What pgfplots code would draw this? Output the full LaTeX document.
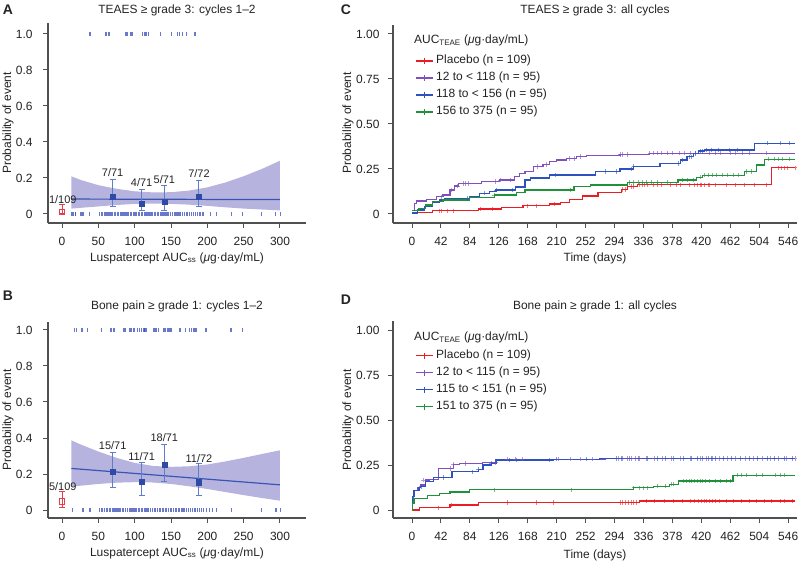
\documentclass[border=0pt]{standalone}
\usepackage{pgfplots}
\pgfplotsset{compat=1.18}
\usepackage{fontspec}
\setmainfont{Liberation Sans}
\definecolor{axisgray}{RGB}{80,80,80}
\definecolor{txt}{RGB}{35,35,35}
\definecolor{bandfill}{RGB}{182,180,222}
\definecolor{fitblue}{RGB}{55,85,180}
\definecolor{rugblue}{RGB}{55,75,185}
\definecolor{errblue}{RGB}{95,125,205}
\definecolor{sqblue}{RGB}{45,75,165}
\definecolor{plred}{RGB}{232,60,70}
\definecolor{kmred}{RGB}{236,28,36}
\definecolor{kmpurple}{RGB}{128,80,190}
\definecolor{kmblue}{RGB}{45,82,192}
\definecolor{kmgreen}{RGB}{30,145,58}
\newcommand{\fs}{\fontsize{12}{14}\selectfont}
\newcommand{\fss}{\fontsize{11}{13}\selectfont}
\pgfplotsset{
  panel/.style={
    scale only axis,
    axis x line*=bottom, axis y line*=left,
    axis line style={axisgray, line width=1.1bp},
    tick style={axisgray, line width=1bp},
    tick align=outside,
    major tick length=5bp,
    tick label style={font=\fs, color=txt},
    xticklabel style={yshift=-6bp},
    /pgf/number format/assume math mode=true,
  },
  rug/.style={only marks, mark=|, mark size=2bp, rugblue, mark options={line width=1.2bp, opacity=0.75}, forget plot},
  km/.style={const plot, line width=1.2bp, no marks, forget plot},
  cens/.style={only marks, mark=+, mark size=2.2bp, mark options={line width=0.8bp, opacity=0.6}, forget plot},
  sq/.style={only marks, mark=square*, mark size=2.6bp, sqblue, forget plot,
    error bars/.cd, y dir=both, y explicit,
    error bar style={errblue, line width=1bp},
    error mark options={errblue, mark size=3bp, line width=1bp, rotate=90}},
  pl/.style={only marks, mark=square, mark size=2.6bp, plred, mark options={fill=white, line width=1bp}, forget plot,
    error bars/.cd, y dir=both, y explicit,
    error bar style={plred, line width=1bp},
    error mark options={plred, mark size=3bp, line width=1bp, rotate=90}},
  kmlegend/.style={
    legend style={draw=none, fill=none, inner sep=0pt, font=\fs,
      nodes={inner sep=1bp, text height=9bp, text depth=3bp, text=txt}, row sep=3bp, column sep=2bp},
    legend cell align=left},
  legred/.style={color=kmred, draw=kmred, line width=1.2bp, mark=+, mark size=3bp, mark options={draw=kmred}},
  legpurple/.style={color=kmpurple, draw=kmpurple, line width=1.2bp, mark=+, mark size=3bp, mark options={draw=kmpurple}},
  legblue/.style={color=kmblue, draw=kmblue, line width=1.2bp, mark=+, mark size=3bp, mark options={draw=kmblue}},
  leggreen/.style={color=kmgreen, draw=kmgreen, line width=1.2bp, mark=+, mark size=3bp, mark options={draw=kmgreen}},
}
\begin{document}
\begin{tikzpicture}
\useasboundingbox (0bp,0bp) rectangle (798bp,565bp);
% ---------------- Panel A ----------------
\begin{axis}[panel, at={(48bp,342bp)}, anchor=south west, width=258bp, height=200bp,
  xmin=-19.3, xmax=335.8, ymin=-0.05, ymax=1.061,
  yticklabel style={xshift=-7bp},
  xtick={0,50,100,150,200,250,300}, ytick={0,0.2,0.4,0.6,0.8,1.0}, yticklabels={0,0.2,0.4,0.6,0.8,1.0}]
\addplot[fill=bandfill, draw=none, forget plot] coordinates {(13,0.209)(25,0.19)(50,0.16)(75,0.14)(100,0.126)(125,0.12)(150,0.121)(175,0.13)(200,0.148)(225,0.175)(250,0.21)(275,0.25)(300,0.296)
 (300,0.020)(275,0.025)(250,0.030)(225,0.037)(200,0.045)(175,0.052)(150,0.056)(125,0.058)(100,0.056)(75,0.050)(50,0.042)(25,0.034)(13,0.030)};
\addplot[fitblue, line width=1.2bp, forget plot] coordinates {(13,0.083)(300,0.080)};
\addplot[rug] coordinates {(38.5,1)(60.6,1)(64.7,1)(88,1)(90.4,1)(95,1)(97,1)(111,1)(113,1)(115.6,1)(119,1)(135,1)(151,1)(158.7,1)(162,1)(166,1)(171.6,1)(182,1)(184,1)};
\addplot[rug] coordinates {(13,0)(14,0)(16,0)(18,0)(19,0)(25,0)(27,0)(29,0)(38,0)(52,0)(55,0)(58,0)(60,0)(62,0)(64,0)(66,0)(68,0)(70,0)(72,0)(74,0)(76,0)(78,0)(80,0)(82,0)(84,0)(86,0)(88,0)(90,0)(92,0)(94,0)(96,0)(98,0)(100,0)(101,0)(103,0)(105,0)(107,0)(109,0)(111,0)(113,0)(115,0)(117,0)(119,0)(121,0)(123,0)(125,0)(127,0)(129,0)(131,0)(133,0)(135,0)(137,0)(139,0)(141,0)(143,0)(145,0)(147,0)(149,0)(152,0)(155,0)(157,0)(159,0)(161,0)(163,0)(166,0)(169,0)(172,0)(175,0)(178,0)(181,0)(184,0)(187,0)(190,0)(193,0)(195,0)(204,0)(213,0)(233,0)(248,0)(274,0)(294,0)(301,0)};
\addplot[sq] coordinates {(69.7,0.098) += (0,0.092) -= (0,0.059) (109.6,0.059) += (0,0.076) -= (0,0.039) (140.8,0.069) += (0,0.090) -= (0,0.049) (188.5,0.098) += (0,0.089) -= (0,0.059)};
\addplot[pl] coordinates {(0,0.011) += (0,0.039) -= (0,0.006)};
\node[font=\fss, txt] at (axis cs:69.7,0.228) {7/71};
\node[font=\fss, txt] at (axis cs:109.6,0.172) {4/71};
\node[font=\fss, txt] at (axis cs:140.8,0.19) {5/71};
\node[font=\fss, txt] at (axis cs:188.5,0.222) {7/72};
\node[font=\fss, txt] at (axis cs:1,0.08) {1/109};
\end{axis}
% ---------------- Panel B ----------------
\begin{axis}[panel, at={(48bp,47bp)}, anchor=south west, width=258bp, height=196bp,
  xmin=-19.3, xmax=335.8, ymin=-0.044, ymax=1.044,
  yticklabel style={xshift=-7bp},
  xtick={0,50,100,150,200,250,300}, ytick={0,0.2,0.4,0.6,0.8,1.0}, yticklabels={0,0.2,0.4,0.6,0.8,1.0}]
\addplot[fill=bandfill, draw=none, forget plot] coordinates {(13,0.387)(25,0.365)(50,0.325)(75,0.29)(100,0.262)(125,0.245)(150,0.24)(175,0.243)(200,0.253)(225,0.27)(250,0.29)(275,0.311)(300,0.332)
 (300,0.052)(275,0.067)(250,0.083)(225,0.100)(200,0.117)(175,0.132)(150,0.145)(125,0.153)(100,0.155)(75,0.152)(50,0.145)(25,0.135)(13,0.129)};
\addplot[fitblue, line width=1.2bp, forget plot] coordinates {(13,0.231)(300,0.140)};
\addplot[rug] coordinates {(17,1)(20.2,1)(27.5,1)(35.3,1)(54.6,1)(67.4,1)(71.6,1)(84.4,1)(86.7,1)(92.7,1)(95,1)(98.2,1)(100,1)(103.7,1)(106.4,1)(109.6,1)(112.8,1)(113.8,1)(115.1,1)(116.5,1)(126.6,1)(129.4,1)(132.6,1)(140.4,1)(142.7,1)(145,1)(147.2,1)(150,1)(162.4,1)(169.7,1)(175.2,1)(178.4,1)(180.7,1)(183,1)(185.3,1)(198.2,1)(232.6,1)(248.2,1)};
\addplot[rug] coordinates {(14,0)(29,0)(38.5,0)(52,0)(55,0)(58,0)(61,0)(63,0)(65,0)(67,0)(69,0)(71,0)(73,0)(75,0)(77,0)(79,0)(81,0)(84,0)(87,0)(90,0)(93,0)(95,0)(97,0)(99,0)(101,0)(103,0)(105,0)(107,0)(109,0)(111,0)(113,0)(115,0)(117,0)(119,0)(122,0)(125,0)(128,0)(131,0)(134,0)(136,0)(138,0)(140,0)(142,0)(144,0)(147,0)(150,0)(153,0)(156,0)(158,0)(160,0)(162,0)(165,0)(168,0)(171,0)(174,0)(177,0)(180,0)(183,0)(186,0)(189,0)(192,0)(195,0)(199,0)(203,0)(207,0)(213,0)(233,0)(274,0)(294.5,0)(301,0)};
\addplot[sq] coordinates {(69.7,0.212) += (0,0.109) -= (0,0.087) (109.6,0.157) += (0,0.105) -= (0,0.078) (140.8,0.253) += (0,0.112) -= (0,0.094) (188.5,0.155) += (0,0.103) -= (0,0.076)};
\addplot[pl] coordinates {(0,0.048) += (0,0.053) -= (0,0.035)};
\node[font=\fss, txt] at (axis cs:69.7,0.356) {15/71};
\node[font=\fss, txt] at (axis cs:109.6,0.295) {11/71};
\node[font=\fss, txt] at (axis cs:140.8,0.40) {18/71};
\node[font=\fss, txt] at (axis cs:188.5,0.286) {11/72};
\node[font=\fss, txt] at (axis cs:1,0.133) {5/109};
\end{axis}
% ---------------- Panel C ----------------
\begin{axis}[panel, kmlegend, at={(393bp,342bp)}, anchor=south west, width=404bp, height=198bp,
  xmin=-27.6, xmax=558.8, ymin=-0.05, ymax=1.05,
  yticklabel style={xshift=-5bp},
  xtick={0,42,...,546}, ytick={0,0.25,0.5,0.75,1}, yticklabels={0,0.25,0.50,0.75,1.00},
  legend style={at={(axis description cs:0.054,0.855)}, anchor=north west}]
\addplot[km, kmred] coordinates {(0,0.009)(30,0.018)(96,0.028)(130,0.037)(161,0.046)(200,0.056)(215,0.066)(229,0.082)(248,0.1)(270,0.118)(304,0.137)(313,0.152)(327,0.162)(522,0.257)(556,0.257)};
\addplot[km, kmpurple] coordinates {(0,0.02)(4,0.06)(6,0.072)(21,0.081)(35,0.096)(45,0.105)(55,0.133)(62,0.155)(67,0.17)(101,0.18)(127,0.189)(149,0.207)(156,0.226)(164,0.235)(176,0.263)(190,0.276)(200,0.29)(210,0.30)(224,0.309)(239,0.319)(253,0.324)(302,0.331)(345,0.338)(556,0.338)};
\addplot[km, kmblue] coordinates {(0,0.005)(8,0.022)(18,0.04)(30,0.063)(40,0.078)(47,0.087)(84,0.096)(98,0.115)(113,0.124)(122,0.133)(150,0.15)(164,0.189)(172,0.2)(200,0.217)(266,0.235)(302,0.25)(321,0.263)(360,0.281)(390,0.3)(399,0.318)(409,0.337)(416,0.35)(424,0.356)(497,0.393)(556,0.393)};
\addplot[km, kmgreen] coordinates {(0,0.019)(10,0.031)(20,0.05)(30,0.069)(45,0.078)(84,0.093)(120,0.105)(152,0.119)(164,0.133)(235,0.152)(259,0.161)(313,0.174)(386,0.189)(413,0.204)(422,0.215)(483,0.235)(500,0.272)(512,0.304)(556,0.304)};
\addplot[cens, kmred] coordinates {(40,0.018)(42,0.018)(52,0.018)(60,0.018)(99,0.028)(116,0.028)(167,0.046)(181,0.046)(207,0.056)(306,0.137)(310,0.137)(318,0.152)(322,0.152)(330,0.162)(334,0.162)(338,0.162)(342,0.162)(350,0.162)(356,0.162)(362,0.162)(375,0.162)(384,0.162)(390,0.162)(402,0.162)(410,0.162)(414,0.162)(418,0.162)(420,0.162)(425,0.162)(430,0.162)(432,0.162)(440,0.162)(456,0.162)(470,0.162)(482,0.162)(497,0.162)(514,0.162)(532,0.257)(536,0.257)(540,0.257)(545,0.257)(556,0.257)};
\addplot[cens, kmpurple] coordinates {(42,0.096)(57,0.133)(66,0.155)(74,0.17)(78,0.17)(82,0.17)(121,0.18)(128,0.189)(143,0.189)(182,0.263)(195,0.276)(229,0.309)(236,0.309)(244,0.319)(302,0.331)(306,0.331)(312,0.331)(345,0.338)(350,0.338)(356,0.338)(362,0.338)(370,0.338)(378,0.338)(388,0.338)(396,0.338)(404,0.338)(412,0.338)(432,0.338)(440,0.338)(448,0.338)(462,0.338)(470,0.338)(480,0.338)(490,0.338)(515,0.338)};
\addplot[cens, kmblue] coordinates {(81,0.087)(105,0.115)(122,0.133)(146,0.133)(208,0.217)(280,0.235)(296,0.235)(318,0.25)(322,0.263)(386,0.281)(392,0.30)(402,0.318)(406,0.318)(412,0.337)(418,0.35)(421,0.35)(428,0.356)(435,0.356)(445,0.356)(460,0.356)(472,0.356)(516,0.393)(535,0.393)(548,0.393)};
\addplot[cens, kmgreen] coordinates {(120,0.105)(230,0.133)(316,0.174)(322,0.174)(328,0.174)(334,0.174)(340,0.174)(348,0.174)(356,0.174)(370,0.174)(392,0.189)(400,0.189)(408,0.189)(418,0.204)(424,0.215)(430,0.215)(436,0.215)(442,0.215)(450,0.215)(458,0.215)(466,0.215)(474,0.215)(486,0.235)(492,0.235)(518,0.304)(526,0.304)(532,0.304)(538,0.304)(548,0.304)};
\addlegendimage{legred}
\addlegendentry{Placebo (n = 109)}
\addlegendimage{legpurple}
\addlegendentry{12 to < 118 (n = 95)}
\addlegendimage{legblue}
\addlegendentry{118 to < 156 (n = 95)}
\addlegendimage{leggreen}
\addlegendentry{156 to 375 (n = 95)}
\node[font=\fs, txt, anchor=west, inner sep=0pt] at (axis description cs:0.052,0.92) {AUC\textsubscript{TEAE} (\textit{μ}g·day/mL)};
\end{axis}
% ---------------- Panel D ----------------
\begin{axis}[panel, kmlegend, at={(393bp,47bp)}, anchor=south west, width=404bp, height=197bp,
  xmin=-27.6, xmax=558.8, ymin=-0.044, ymax=1.05,
  yticklabel style={xshift=-5bp},
  xtick={0,42,...,546}, ytick={0,0.25,0.5,0.75,1}, yticklabels={0,0.25,0.50,0.75,1.00},
  legend style={at={(axis description cs:0.054,0.86)}, anchor=north west}]
\addplot[km, kmred] coordinates {(0,0)(11,0.013)(55,0.028)(96,0.041)(330,0.05)(556,0.05)};
\addplot[km, kmpurple] coordinates {(0,0)(1,0.07)(2,0.11)(8,0.125)(12,0.139)(19,0.167)(25,0.17)(38,0.231)(60,0.254)(69,0.259)(102,0.265)(122,0.283)(280,0.287)(556,0.287)};
\addplot[km, kmblue] coordinates {(0,0)(1,0.074)(3,0.11)(10,0.126)(12,0.13)(19,0.157)(31,0.18)(58,0.213)(96,0.226)(103,0.25)(115,0.259)(122,0.278)(205,0.283)(272,0.287)(556,0.287)};
\addplot[km, kmgreen] coordinates {(0,0)(1,0.037)(3,0.065)(23,0.083)(40,0.092)(55,0.1)(84,0.113)(321,0.124)(350,0.133)(374,0.144)(387,0.161)(466,0.194)(556,0.194)};
\addplot[cens, kmred] coordinates {(38,0.013)(57,0.028)(139,0.041)(180,0.041)(205,0.041)(302,0.041)(306,0.041)(310,0.041)(314,0.041)(318,0.041)(322,0.041)(326,0.041)(340,0.05)(352,0.05)(366,0.05)(380,0.05)(392,0.05)(404,0.05)(410,0.05)(416,0.05)(420,0.05)(424,0.05)(428,0.05)(432,0.05)(436,0.05)(440,0.05)(446,0.05)(456,0.05)(466,0.05)(478,0.05)(490,0.05)(500,0.05)(512,0.05)(522,0.05)(534,0.05)(540,0.05)(552,0.05)};
\addplot[cens, kmpurple] coordinates {(16,0.167)(56,0.231)(60,0.254)(78,0.259)(121,0.265)(138,0.283)(150,0.283)(160,0.283)(212,0.283)(230,0.283)(245,0.283)(262,0.283)(300,0.287)(306,0.287)(312,0.287)(318,0.287)(324,0.287)(330,0.287)(340,0.287)(352,0.287)(364,0.287)(376,0.287)(390,0.287)(404,0.287)(418,0.287)(428,0.287)(436,0.287)(446,0.287)(458,0.287)(470,0.287)(484,0.287)(496,0.287)(508,0.287)(520,0.287)(532,0.287)(544,0.287)(556,0.287)};
\addplot[cens, kmblue] coordinates {(13,0.13)(45,0.18)(87,0.213)(96,0.226)(115,0.259)(142,0.278)(151,0.278)(200,0.278)(210,0.283)(253,0.283)(296,0.287)(304,0.287)(316,0.287)(328,0.287)(342,0.287)(356,0.287)(368,0.287)(380,0.287)(394,0.287)(406,0.287)(414,0.287)(422,0.287)(430,0.287)(434,0.287)(440,0.287)(452,0.287)(464,0.287)(476,0.287)(490,0.287)(502,0.287)(516,0.287)(526,0.287)(540,0.287)(552,0.287)};
\addplot[cens, kmgreen] coordinates {(120,0.113)(232,0.113)(322,0.124)(330,0.124)(336,0.124)(342,0.124)(356,0.133)(368,0.133)(376,0.144)(380,0.144)(394,0.161)(398,0.161)(402,0.161)(406,0.161)(410,0.161)(414,0.161)(418,0.161)(422,0.161)(426,0.161)(432,0.161)(440,0.161)(448,0.161)(456,0.161)(462,0.161)(472,0.194)(478,0.194)(486,0.194)(500,0.194)(508,0.194)(528,0.194)(534,0.194)(540,0.194)};
\addlegendimage{legred}
\addlegendentry{Placebo (n = 109)}
\addlegendimage{legpurple}
\addlegendentry{12 to < 115 (n = 95)}
\addlegendimage{legblue}
\addlegendentry{115 to < 151 (n = 95)}
\addlegendimage{leggreen}
\addlegendentry{151 to 375 (n = 95)}
\node[font=\fs, txt, anchor=west, inner sep=0pt] at (axis description cs:0.052,0.917) {AUC\textsubscript{TEAE} (\textit{μ}g·day/mL)};
\end{axis}
% titles, axis labels, panel letters
\begin{scope}[every node/.style={font=\fs, text=txt}]
\node at (177bp,555bp) {TEAES ≥ grade 3: cycles 1–2};
\node at (177bp,259bp) {Bone pain ≥ grade 1: cycles 1–2};
\node at (595bp,555bp) {TEAES ≥ grade 3: all cycles};
\node at (595bp,259bp) {Bone pain ≥ grade 1: all cycles};
\node at (177bp,307bp) {Luspatercept AUC\textsubscript{ss} (\textit{μ}g·day/mL)};
\node at (177bp,12bp) {Luspatercept AUC\textsubscript{ss} (\textit{μ}g·day/mL)};
\node at (595bp,307bp) {Time (days)};
\node at (595bp,10bp) {Time (days)};
\node[rotate=90] at (8bp,442bp) {Probability of event};
\node[rotate=90] at (8bp,145bp) {Probability of event};
\node[rotate=90] at (348bp,442bp) {Probability of event};
\node[rotate=90] at (348bp,145bp) {Probability of event};
\end{scope}
\node[font=\bfseries\fontsize{14}{16}\selectfont, txt] at (8bp,555bp) {A};
\node[font=\bfseries\fontsize{14}{16}\selectfont, txt] at (8bp,269bp) {B};
\node[font=\bfseries\fontsize{14}{16}\selectfont, txt] at (346bp,555bp) {C};
\node[font=\bfseries\fontsize{14}{16}\selectfont, txt] at (346bp,265bp) {D};
\end{tikzpicture}
\end{document}
